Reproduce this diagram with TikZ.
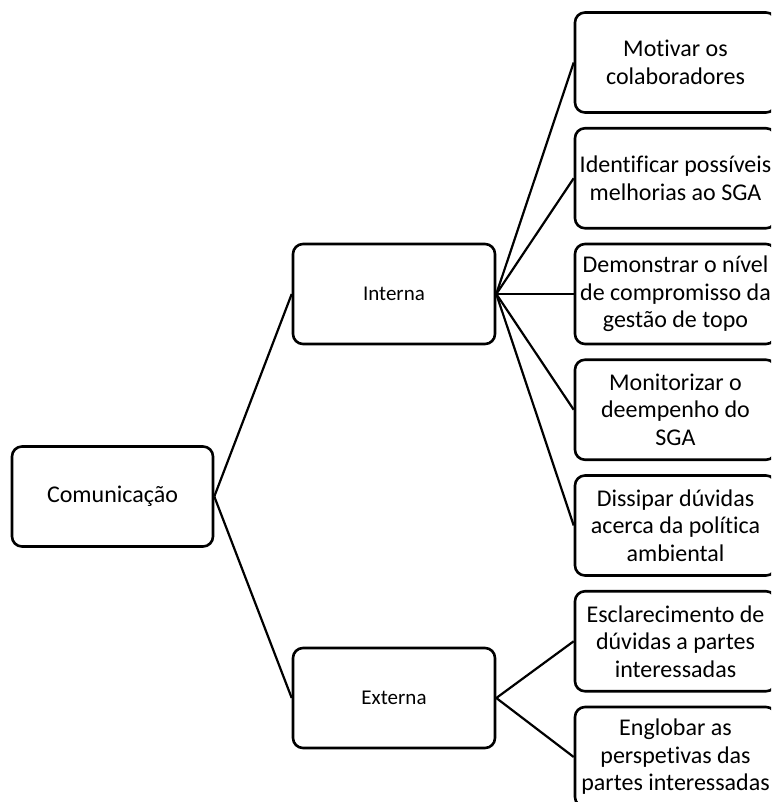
\documentclass[tikz,border=0pt]{standalone}
\usepackage{fontspec}
\setmainfont{Carlito}[Ligatures=NoCommon]
\begin{document}
\begin{tikzpicture}[x=1pt,y=-1pt,
  box/.style={draw=black,line width=2.6pt,rounded corners=10pt,fill=white,
    minimum width=201pt,minimum height=100pt,align=center,inner sep=0pt,
    font=\fontsize{24}{27.5}\selectfont},
  midbox/.style={box,minimum width=202pt,font=\fontsize{21}{26}\selectfont},
  conn/.style={line width=2.2pt}]
\useasboundingbox (0,0) rectangle (771,802);
\clip (0,0) rectangle (771,802);
\node[box,font=\fontsize{24}{28}\selectfont] (com) at (112.5,496.5) {Comunicação};
\node[midbox] (int) at (394,294) {Interna};
\node[midbox] (ext) at (394,698) {Externa};
\node[box] (r1) at (675.5,62.5) {Motivar os\\colaboradores};
\node[box] (r2) at (675.5,178.25) {Identificar possíveis\\melhorias ao SGA};
\node[box] (r3) at (675.5,294) {Demonstrar o nível\\de compromisso da\\gestão de topo};
\node[box] (r4) at (675.5,409.75) {Monitorizar o\\deempenho do\\SGA};
\node[box] (r5) at (675.5,525.5) {Dissipar dúvidas\\acerca da política\\ambiental};
\node[box] (r6) at (675.5,641.25) {Esclarecimento de\\dúvidas a partes\\interessadas};
\node[box] (r7) at (675.5,757) {Englobar as\\perspetivas das\\partes interessadas};
\draw[conn] (com.east) -- (int.west);
\draw[conn] (com.east) -- (ext.west);
\foreach \r in {r1,r2,r3,r4,r5} \draw[conn] (int.east) -- (\r.west);
\foreach \r in {r6,r7} \draw[conn] (ext.east) -- (\r.west);
\end{tikzpicture}
\end{document}
